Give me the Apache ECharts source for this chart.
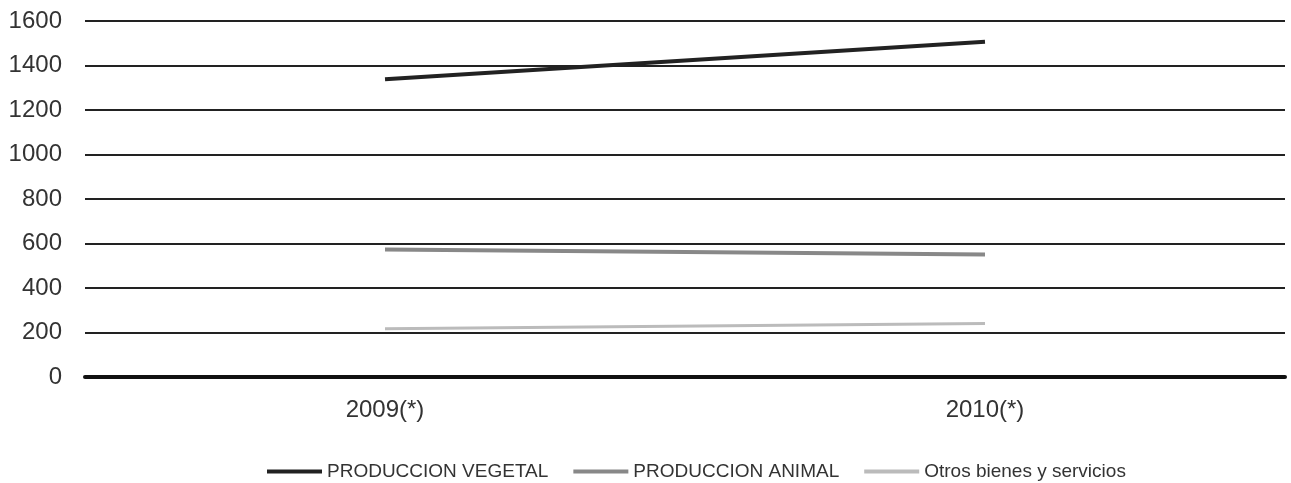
<!DOCTYPE html>
<html>
  <head>
    <meta charset="utf-8" />
    <script src="https://cdn.jsdelivr.net/npm/echarts@6/dist/echarts.min.js"></script>
  </head>
  <body>
    <style>
      html,
      body,
      #main {
        width: 100%;
        height: 100%;
        margin: 0;
        background: #fff;
      }
    </style>
    <div id="main"></div>
    <script>
      var chart = echarts.init(document.getElementById('main'));

      var years = ['2009(*)', '2010(*)'];
      var vegetal = [1338, 1507];
      var animal = [573, 551];
      var otros = [217, 240];

      var font = 'Liberation Sans, Arial, sans-serif';

      var option = {
        animation: false,
        grid: { left: 85, right: 6, top: 21, bottom: 106 },
        legend: {
          top: 457,
          left: 262,
          icon: 'rect',
          itemWidth: 55,
          itemHeight: 4,
          itemGap: 25,
          textStyle: { fontFamily: font, fontSize: 19, color: '#333' },
          data: ['PRODUCCION VEGETAL', 'PRODUCCION ANIMAL', 'Otros bienes y servicios']
        },
        xAxis: {
          type: 'category',
          data: years,
          axisLine: { lineStyle: { color: '#111', width: 4 } },
          axisTick: { show: false },
          axisLabel: { margin: 21, fontSize: 24, color: '#333', fontFamily: font }
        },
        yAxis: {
          type: 'value',
          min: 0,
          max: 1600,
          interval: 200,
          axisLine: { show: false },
          axisTick: { show: false },
          axisLabel: {
            margin: 23,
            fontSize: 24,
            color: '#333',
            fontFamily: font,
            formatter: function (v) { return String(v); }
          },
          splitLine: { lineStyle: { color: '#222', width: 2 } }
        },
        series: [
          {
            name: 'PRODUCCION VEGETAL',
            type: 'line',
            data: vegetal,
            symbol: 'none',
            itemStyle: { color: '#222' },
            lineStyle: { color: '#222', width: 4 }
          },
          {
            name: 'PRODUCCION ANIMAL',
            type: 'line',
            data: animal,
            symbol: 'none',
            itemStyle: { color: '#888' },
            lineStyle: { color: '#888', width: 4 }
          },
          {
            name: 'Otros bienes y servicios',
            type: 'line',
            data: otros,
            symbol: 'none',
            itemStyle: { color: '#bbb' },
            lineStyle: { color: '#bbb', width: 3 }
          }
        ]
      };

      chart.setOption(option);

      window.onresize = function () {
        chart.resize();
      };
    </script>
  </body>
</html>
